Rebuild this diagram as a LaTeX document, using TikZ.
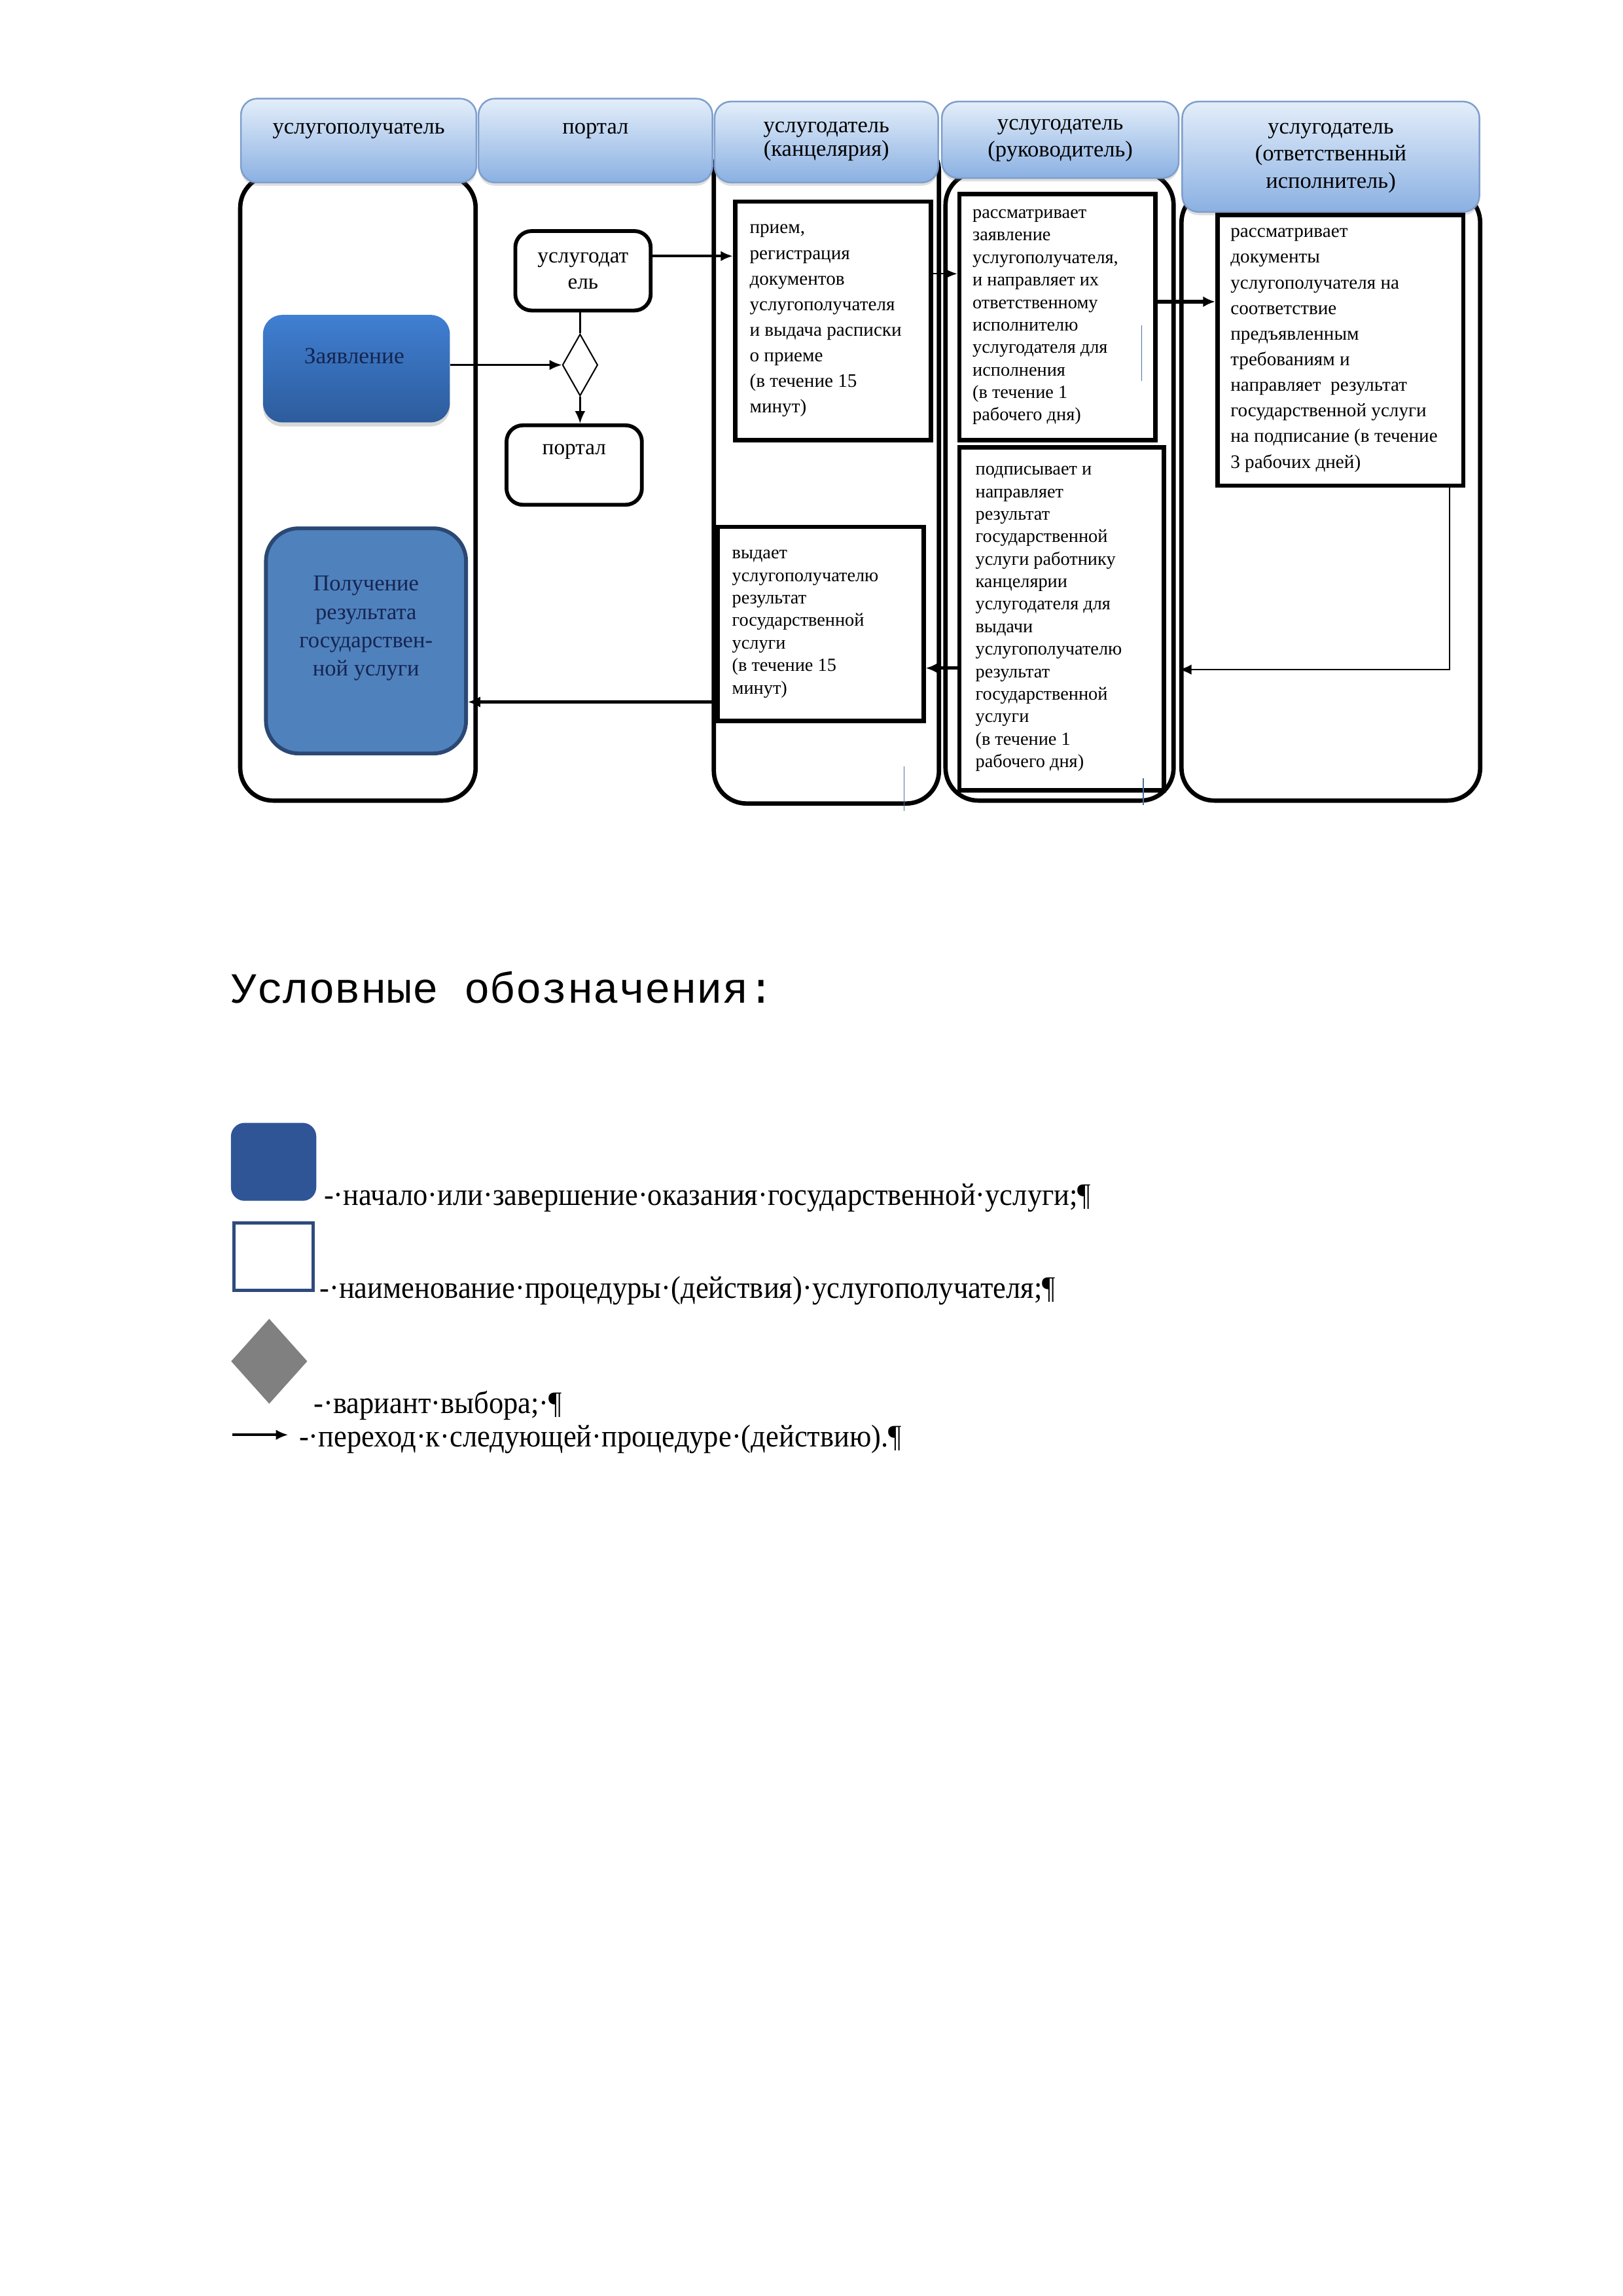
\documentclass[tikz,border=0pt]{standalone}
\usepackage{fontspec}
\setmainfont{Liberation Serif}
\newfontfamily\legmono{Liberation Mono}
\newfontfamily\legserif[FakeStretch=0.93]{Liberation Serif}
\usetikzlibrary{arrows.meta,shapes.geometric,shadows}
\newcommand\un{0.53969pt}
\definecolor{hdrtop}{HTML}{E4EEFA}
\definecolor{hdrbot}{HTML}{8AB0E2}
\definecolor{hdrline}{HTML}{7F9FCC}
\definecolor{ztop}{HTML}{407FD2}
\definecolor{zbot}{HTML}{2D5C9C}
\definecolor{ztext}{HTML}{152550}
\definecolor{pfill}{HTML}{4F81BD}
\definecolor{pline}{HTML}{2A4873}
\definecolor{lgblue}{HTML}{2F5597}
\definecolor{lgline}{HTML}{2F4B7C}
\definecolor{stray}{HTML}{4D6E9C}
\begin{document}
\begin{tikzpicture}[x=0.53969pt,y=-0.53969pt,
 lane/.style={draw=black,line width=1.6pt,rounded corners=12pt,fill=white,inner sep=0pt},
 hdr/.style={draw=hdrline,line width=0.6pt,rounded corners=6pt,top color=hdrtop,bottom color=hdrbot,inner sep=0pt,
   drop shadow={opacity=0.25,shadow xshift=0pt,shadow yshift=-1.2pt}},
 hdrtxt/.style={align=center,inner sep=0pt,anchor=north},
 procbox/.style={draw=black,line width=1.6pt,fill=white,inner sep=0pt},
 rbox/.style={draw=black,line width=1.4pt,rounded corners=6pt,fill=white,inner sep=0pt},
 txt/.style={align=left,inner sep=0pt,anchor=west,font=\fontsize{7}{9.4}\selectfont},
 txtb/.style={align=left,inner sep=0pt,anchor=west,font=\fontsize{6.8}{8.25}\selectfont},
 arr/.style={-{Latex[length=4.5pt,width=3.8pt]},line width=0.7pt},
 arrb/.style={-{Latex[length=4.5pt,width=4pt]},line width=1.2pt},
 legtxt/.style={anchor=west,inner sep=0pt,font=\legserif\fontsize{11.5}{13}\selectfont},
 strayline/.style={draw=stray,line width=0.4pt}
]
\useasboundingbox (0,0) rectangle (1103,1560.2);
\begin{scope}[shift={(-1.4,-1)},xscale=0.9965]

% lanes
\node[lane,minimum width={160*\un},minimum height={425*\un}] (lane1) at (245.5,332.5) {};
\node[lane,minimum width={153*\un},minimum height={452*\un}] (lane3) at (565,321) {};
\node[lane,minimum width={155*\un},minimum height={427*\un}] (lane4) at (724,331.5) {};
\node[lane,minimum width={203*\un},minimum height={415*\un}] (lane5) at (909,337.5) {};

% headers
\node[hdr,minimum width={160*\un},minimum height={57*\un}] (h1) at (246,96.5) {};
\node[hdr,minimum width={159*\un},minimum height={57*\un}] (h2) at (407.5,96.5) {};
\node[hdr,minimum width={152*\un},minimum height={55*\un}] (h3) at (565,97.5) {};
\node[hdr,minimum width={161*\un},minimum height={52*\un}] (h4) at (724.5,96) {};
\node[hdr,minimum width={202*\un},minimum height={75*\un}] (h5) at (909,107.5) {};
\node[hdrtxt,font=\fontsize{8.3}{9.2}\selectfont] (h1t) at (246,79.5) {\strut услугополучатель};
\node[hdrtxt,font=\fontsize{8.3}{9.2}\selectfont] (h2t) at (407.5,79.5) {\strut портал};
\node[hdrtxt,font=\fontsize{8.3}{8.7}\selectfont] (h3t) at (565,79.5) {\strut услугодатель\\(канцелярия)};
\node[hdrtxt,font=\fontsize{8.3}{9.7}\selectfont] (h4t) at (724.5,76.5) {\strut услугодатель\\(руководитель)};
\node[hdrtxt,font=\fontsize{8.3}{10}\selectfont] (h5t) at (909,78.5) {\strut услугодатель\\(ответственный\\исполнитель)};

% portal lane
\node[rbox,minimum width={92*\un},minimum height={54*\un},align=center,font=\fontsize{8}{9.7}\selectfont] (usl) at (399,185) {услугодат\\ель};
\node[diamond,draw=black,line width=0.5pt,fill=white,inner sep=0pt,minimum width={24*\un},minimum height={42*\un}] (dia) at (397,249) {};
\node[rbox,minimum width={92*\un},minimum height={54*\un}] (portal) at (393,317) {};
\node[inner sep=0pt,font=\fontsize{8}{9.7}\selectfont] (portalt) at (393,308) {портал};

% recipient lane
\node[rounded corners=7pt,inner sep=0pt,top color=ztop,bottom color=zbot,minimum width={127*\un},minimum height={73*\un},
  drop shadow={opacity=0.3,shadow xshift=0pt,shadow yshift=-1.5pt}] (zayav) at (244.5,251.5) {};
\node[inner sep=0pt,text=ztext,font=\fontsize{8.5}{10}\selectfont] (zayavt) at (243,243) {Заявление};
\node[draw=pline,line width=1.4pt,fill=pfill,rounded corners=12pt,inner sep=0pt,minimum width={136*\un},minimum height={153*\un}] (poluch) at (251,436.5) {};
\node[inner sep=0pt,align=center,text=ztext,font=\fontsize{8.3}{10.4}\selectfont] (poluchT) at (251,428) {Получение\\результата\\государствен-\\ной услуги};

% process boxes
\node[procbox,minimum width={133*\un},minimum height={162*\un}] (priem) at (569.5,219) {};
\node[txt,xshift={11*\un}] (priemt) at (priem.west) {прием,\\регистрация\\документов\\услугополучателя\\и выдача расписки\\о приеме\\(в течение 15\\минут)};
\node[procbox,minimum width={133*\un},minimum height={167*\un}] (rass) at (722.5,216.5) {};
\node[txtb,xshift={10*\un}] (rasst) at (rass.west) {рассматривает\\заявление\\услугополучателя,\\и направляет их\\ответственному\\исполнителю\\услугодателя для\\исполнения\\(в течение 1\\рабочего дня)};
\node[procbox,minimum width={167*\un},minimum height={184*\un}] (dok) at (915.5,239) {};
\node[txt,xshift={10*\un}] (dokt) at (dok.west) {рассматривает\\документы\\услугополучателя на\\соответствие\\предъявленным\\требованиям и\\направляет\ \ результат\\государственной услуги\\на подписание (в течение\\3 рабочих дней)};
\node[procbox,minimum width={139*\un},minimum height={233*\un}] (podp) at (725.5,421.5) {};
\node[txtb,xshift={12*\un}] (podpt) at (podp.west) {подписывает и\\направляет\\результат\\государственной\\услуги работнику\\канцелярии\\услугодателя для\\выдачи\\услугополучателю\\результат\\государственной\\услуги\\(в течение 1\\рабочего дня)};
\node[procbox,minimum width={140*\un},minimum height={132*\un}] (vyd) at (561,425) {};
\node[txtb,xshift={11*\un}] (vydt) at (vyd.west) {выдает\\услугополучателю\\результат\\государственной\\услуги\\(в течение 15\\минут)};

% helper levels
\coordinate (y175) at (0,175);
\coordinate (y187) at (0,187);
\coordinate (y206) at (0,206);
\coordinate (y455) at (0,455);
\coordinate (y456) at (0,456);
\coordinate (y478) at (0,478);
\coordinate (x990) at (990,0);

% connectors
\draw[arr,line width=1pt] (usl.east |- y175) -- (priem.west |- y175);
\draw[arr,line width=0.6pt] (zayav.east |- dia.west) -- (dia.west);
\draw[line width=0.6pt] (usl.south -| dia.north) -- (dia.north);
\draw[arr,line width=0.6pt] (dia.south) -- (dia.south |- portal.north);
\draw[arr,line width=0.6pt] (priem.east |- y187) -- (rass.west |- y187);
\draw[arrb,line width=1.3pt] (rass.east |- y206) -- (dok.west |- y206);
\draw[arr,line width=0.6pt] (dok.south -| x990) |- (lane5.west |- y456);
\draw[arrb] (podp.west |- y455) -- (vyd.east |- y455);
\draw[arrb] (vyd.west |- y478) -- (poluch.east |- y478);

% stray thin lines
\draw[strayline] (780,222) -- (780,260);
\draw[strayline] (618,522) -- (618,552);
\draw[strayline] (781,530) -- (781,548);

% legend
\node[anchor=west,inner sep=0pt,font=\legmono\fontsize{15.8}{18}\selectfont] (legtitle) at (159,672) {Условные обозначения:};
\node[fill=lgblue,rounded corners=5pt,inner sep=0pt,minimum width={58*\un},minimum height={53*\un}] (lg1) at (188,790.5) {};
\node[draw=lgline,line width=1.2pt,fill=white,inner sep=0pt,minimum width={54*\un},minimum height={46*\un}] (lg2) at (188,855) {};
\node[diamond,fill=gray,inner sep=0pt,minimum width={52*\un},minimum height={58*\un}] (lg3) at (185,926) {};
\coordinate (la1) at (160,976);
\coordinate (la2) at (198,976);
\draw[arr,line width=0.9pt] (la1) -- (la2);
\node[legtxt] (lt1) at (222,815) {-·начало·или·завершение·оказания·государственной·услуги;¶};
\node[legtxt] (lt2) at (219,878) {-·наименование·процедуры·(действия)·услугополучателя;¶};
\node[legtxt] (lt3) at (215,956) {-·вариант·выбора;·¶};
\node[legtxt] (lt4) at (205,979) {-·переход·к·следующей·процедуре·(действию).¶};
\end{scope}
\end{tikzpicture}
\end{document}
